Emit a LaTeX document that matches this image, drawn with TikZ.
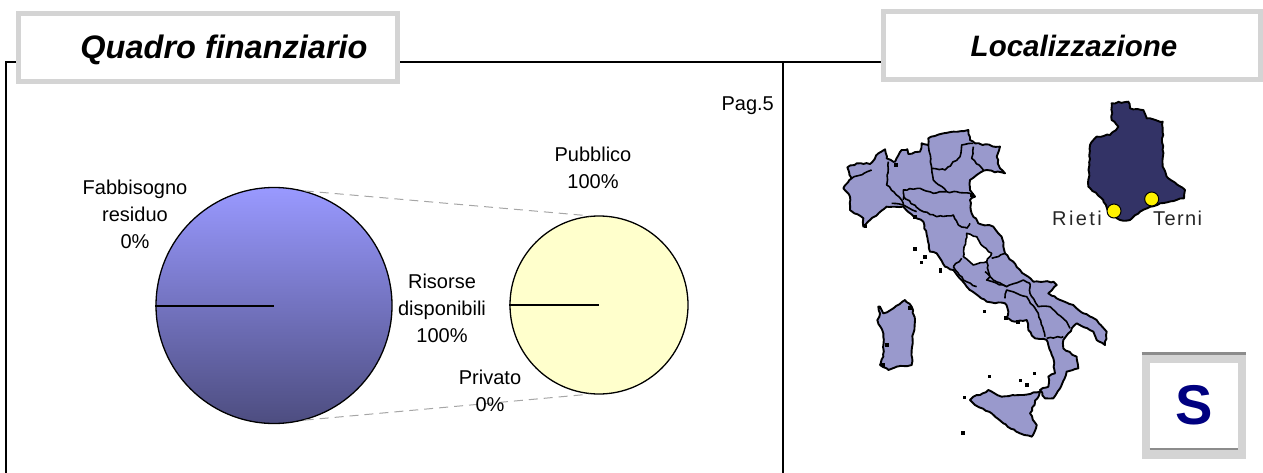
\documentclass[tikz,border=0pt]{standalone}
\usepackage{fontspec}
\usetikzlibrary{decorations.pathmorphing}
\setmainfont{Liberation Sans}
\newfontfamily\widefont[LetterSpace=12]{Liberation Sans}
\newfontfamily\midfont[LetterSpace=7]{Liberation Sans}
\definecolor{boxgray}{HTML}{D4D4D4}
\definecolor{edgegray}{HTML}{8C8C8C}
\definecolor{regionfill}{HTML}{9999CC}
\definecolor{umbriafill}{HTML}{333366}
\definecolor{pietop}{HTML}{9999FF}
\definecolor{piebottom}{HTML}{4D4D80}
\definecolor{piepale}{HTML}{FFFFCC}
\definecolor{leader}{HTML}{A6A6A6}
\definecolor{navytext}{HTML}{000080}
\tikzset{
  x=1pt,y=-1pt,
  framerule/.style={draw=black,line width=1.4pt},
  titlebox/.style={draw=boxgray,fill=white,line width=5pt,inner sep=0pt,minimum height=68pt},
  titletext/.style={anchor=base,inner sep=0pt,font=\bfseries\itshape},
  pielabel/.style={font=\fontsize{20}{27}\selectfont,align=center,inner sep=0pt},
  maplabel/.style={font=\fontsize{20}{24}\selectfont,inner sep=0pt,text=black!85},
  pie/.style={circle,draw=black,line width=1.3pt,inner sep=0pt},
  sector/.style={draw=black,line width=2pt},
  leaderline/.style={draw=leader,line width=1pt,dash pattern=on 9pt off 6pt},
  jag/.style={decorate,decoration={random steps,segment length=3.5pt,amplitude=.8pt}},
  region/.style={draw=black,line width=1.9pt,fill=regionfill,line join=round,jag},
  border/.style={draw=black,line width=1.6pt,line join=round,jag},
  islet/.style={fill=black,inner sep=0pt,minimum size=#1,rectangle},
  town/.style={circle,fill=yellow,draw=black,line width=1pt,inner sep=0pt,minimum size=14pt},
}
\begin{document}
\begin{tikzpicture}
\useasboundingbox (0,0) rectangle (1263,473);
% frame
\coordinate (fBL) at (6,473);
\coordinate (fTL) at (6,62);
\coordinate (fTR) at (882,62);
\coordinate (fdT) at (783,62);
\coordinate (fdB) at (783,473);
\draw[framerule] (fBL) -- (fTL) -- (fTR);
\draw[framerule] (fdT) -- (fdB);
% title boxes
\node[titlebox,minimum width=379pt] (qf) at (208,47.5) {};
\node[titlebox,minimum width=377pt] (loc) at (1072,45.5) {};
\node[titletext] (qft) at (224,59) {\fontsize{32.5}{38}\selectfont Quadro finanziario};
\node[titletext] (loct) at (1074,57) {\fontsize{29.5}{35}\selectfont Localizzazione};
\node[pielabel,anchor=east] (pag) at (774,106) {Pag.5};
% leader lines and pies
\node[pie,minimum size=236pt,top color=pietop,bottom color=piebottom] (pieA) at (274,305.5) {};
\node[pie,minimum size=178pt,fill=piepale] (pieB) at (599,305) {};
\draw[leaderline] (pieA.75) -- (pieB.96);
\draw[leaderline] (pieA.-75) -- (pieB.-96);
\draw[sector] (pieA.west) -- (pieA.center);
\draw[sector] (pieB.west) -- (pieB.center);
\node[pielabel] (lfab) at (135,214) {Fabbisogno\\residuo\\0\%};
\node[pielabel] (lris) at (442,308) {Risorse\\disponibili\\100\%};
\node[pielabel] (lpub) at (593,168) {Pubblico\\100\%};
\node[pielabel] (lpri) at (490,391) {Privato\\0\%};
% Italy, north and outline (coordinates from a 3x grid)
\begin{scope}[shift={(820,90)},x=0.33333pt,y=-0.33333pt]
\draw[region] (82,232)--(110,220)--(150,222)--(175,190)--(195,178)--(200,205)--(225,215)--(245,180)--(262,178)--(265,192)--(300,185)--(305,160)--(325,165)--(325,145)--(370,130)--(400,125)--(445,120)--(450,150)--(465,160)--(540,170)--(530,200)--(540,235)--(555,250)--(500,240)--(470,255)--(450,270)--(450,300)--(465,320)--(450,330)--(455,370)--(475,400)--(520,410)--(545,440)--(555,490)--(600,540)--(640,575)--(700,575)--(710,585)--(685,610)--(710,625)--(760,645)--(790,670)--(830,690)--(860,725)--(855,765)--(830,750)--(820,725)--(770,700)--(745,730)--(730,750)--(730,775)--(770,800)--(775,835)--(740,845)--(725,885)--(700,925)--(675,925)--(660,900)--(685,890)--(685,860)--(705,850)--(700,805)--(680,750)--(645,745)--(625,720)--(620,690)--(585,695)--(560,685)--(565,665)--(555,640)--(500,635)--(465,610)--(440,590)--(400,540)--(375,530)--(350,490)--(330,485)--(310,395)--(290,385)--(250,350)--(200,350)--(150,390)--(130,410)--(130,385)--(90,360)--(90,320)--(70,295)--(95,265)--cycle;
% Umbria left blank
\draw[border,fill=white] (440,430)--(430,500)--(460,525)--(500,515)--(515,490)--(490,470)--(470,440)--cycle;
\draw[border] (95,265)--(155,240);
\draw[border] (205,215)--(200,285)--(245,330)--(250,345);
\draw[border] (325,165)--(335,235)--(340,270)--(380,305);
\draw[border] (250,330)--(250,300)--(300,295)--(340,310)--(380,305)--(450,310);
\draw[border] (335,235)--(375,240)--(420,200)--(425,165)--(460,160);
\draw[border] (460,170)--(455,205)--(490,240);
\draw[border] (250,320)--(300,360)--(350,380)--(400,375)--(415,405)--(440,415);
\draw[border] (215,340)--(250,345)--(290,365);
\draw[border] (440,415)--(450,400);
\draw[border] (515,505)--(555,490);
\draw[border] (400,530)--(425,505);
\draw[border] (500,515)--(510,560)--(500,570)--(560,590);
\draw[border] (400,530)--(430,570)--(470,590);
\node[islet=4pt] (i1) at (285,478) {};
\node[islet=4pt] (i2) at (315,500) {};
\node[islet=3pt] (i3) at (305,517) {};
\node[islet=3pt] (i4) at (360,540) {};
\node[islet=4pt] (s1) at (228,225) {};
\node[islet=4pt] (s2) at (455,315) {};
\node[islet=4pt] (s3) at (285,382) {};
\node[islet=3pt] (s4) at (136,410) {};
\end{scope}
% Italy, south
\begin{scope}[shift={(860,270)},x=0.33333pt,y=-0.33333pt]
\draw[border] (375,5)--(400,30)--(440,50)--(490,30)--(510,40);
\draw[border] (435,85)--(440,60)--(500,80)--(535,130)--(555,200);
\draw[border] (510,40)--(510,70)--(535,110)--(570,110)--(620,155)--(630,175);
\draw[border] (560,205)--(610,200);
\draw[region] (55,110)--(60,130)--(52,150)--(70,190)--(70,260)--(60,285)--(85,300)--(110,290)--(155,285)--(155,240)--(160,190)--(165,150)--(155,110)--(135,90)--(100,115)--(70,130)--(60,110)--cycle;
\draw[region] (340,380)--(360,375)--(385,360)--(425,380)--(480,375)--(540,365)--(510,430)--(530,465)--(515,500)--(480,490)--(430,460)--(395,430)--(345,405)--(330,390)--cycle;
\node[islet=3pt] (i5) at (373,125) {};
\node[islet=4pt] (i6) at (437,143) {};
\node[islet=4pt] (i7) at (475,155) {};
\node[islet=3pt] (i8) at (388,320) {};
\node[islet=3pt] (i9) at (480,332) {};
\node[islet=4pt] (i10) at (500,345) {};
\node[islet=3pt] (i11) at (522,310) {};
\node[islet=3pt] (i12) at (313,382) {};
\node[islet=4pt] (i13) at (310,488) {};
\node[islet=3pt] (i14) at (242,3) {};
\node[islet=4pt] (s5) at (150,115) {};
\node[islet=4pt] (s6) at (80,225) {};
\node[islet=4pt] (s7) at (70,285) {};
\end{scope}
% Umbria
\begin{scope}[shift={(1040,90)},x=0.33333pt,y=-0.33333pt]
\draw[region,fill=umbriafill] (215,40)--(265,35)--(270,55)--(310,60)--(320,85)--(368,95)--(368,230)--(385,265)--(435,300)--(432,325)--(360,340)--(300,365)--(270,390)--(240,390)--(205,365)--(190,330)--(145,290)--(150,165)--(170,140)--(210,135)--(235,110)--(215,90)--cycle;
\node[town] (rieti) at (222,363) {};
\node[town] (terni) at (335,327) {};
\end{scope}
\node[maplabel,anchor=east] (lrieti) at (1102,218) {\widefont Rieti};
\node[maplabel,anchor=west] (lterni) at (1153,218) {\midfont Terni};
% S box
\node[fill=boxgray,inner sep=0pt,outer sep=0pt,minimum width=104pt,minimum height=106pt] (sframe) at (1193.7,405.5) {};
\node[fill=white,inner sep=0pt,outer sep=0pt,minimum width=88pt,minimum height=85.6pt,
  font=\fontsize{56}{60}\selectfont\bfseries,text=navytext] (sbox) at (sframe.center) {S};
\draw[edgegray,line width=2.2pt] ([yshift=-1pt]sframe.north west) -- ([yshift=-1pt]sframe.north east);
\draw[edgegray,line width=2pt] ([yshift=-1pt]sbox.south west) -- ([yshift=-1pt]sbox.south east);
\end{tikzpicture}
\end{document}
